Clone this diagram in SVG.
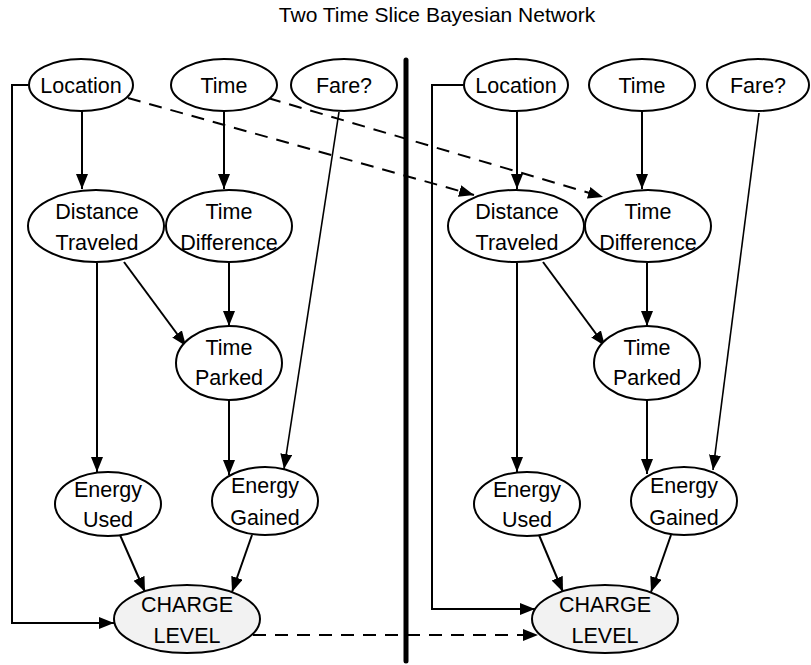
<svg xmlns="http://www.w3.org/2000/svg" width="811" height="665" viewBox="0 0 811 665">
<style>
.n{fill:#fff;stroke:#000;stroke-width:2}
.c{fill:#f2f2f2;stroke:#000;stroke-width:2}
text{font-family:"Liberation Sans",Arial,sans-serif;font-size:21.5px;fill:#000;text-anchor:middle}
.t{font-size:21px}
.e{fill:none;stroke:#000;stroke-width:2}
.a{marker-end:url(#ah)}
.d{stroke-dasharray:13 9}
</style>
<defs>
<marker id="ah" markerUnits="userSpaceOnUse" markerWidth="16" markerHeight="13" refX="15" refY="6" orient="auto">
<path d="M0,0 L15,6 L0,12 z" fill="#000"/>
</marker>
</defs>
<rect width="811" height="665" fill="#fff"/>
<text class="t" x="437" y="22">Two Time Slice Bayesian Network</text>
<line x1="406" y1="60" x2="406" y2="661" stroke="#000" stroke-width="5" stroke-linecap="round"/>
<g id="connectors">
<path class="e a" d="M82,111 L82,189"/>
<path class="e a" d="M224,111 L224,189"/>
<path class="e a" d="M339,112 L284,469" style="stroke-width:1.6"/>
<path class="e a" d="M97,263 L97,472"/>
<path class="e a" d="M124,262 L186,346"/>
<path class="e a" d="M229,263 L229,326"/>
<path class="e a" d="M229,400 L229,475"/>
<path class="e a" d="M120,535 L145,592"/>
<path class="e a" d="M252,535 L232,592"/>
<path class="e a" d="M28,85 L12,85 L12,623 L114,623"/>
<path class="e a d" d="M253,635 L538,635"/>
<path class="e a d" d="M128,98 L474,195"/>
<path class="e a d" d="M268,98 L603,197"/>
<path class="e a" d="M517,111 L517,189"/>
<path class="e a" d="M642,111 L642,189"/>
<path class="e a" d="M759,113 L713,470" style="stroke-width:1.6"/>
<path class="e a" d="M517,263 L517,472"/>
<path class="e a" d="M543,262 L605,346"/>
<path class="e a" d="M647,263 L647,326"/>
<path class="e a" d="M647,400 L647,474"/>
<path class="e a" d="M539,535 L563,592"/>
<path class="e a" d="M671,535 L651,592"/>
<path class="e a" d="M463,85 L432,85 L432,609 L535,609"/>
</g>
<g id="location1"><ellipse class="n" cx="81" cy="85" rx="52" ry="26"/><text x="81" y="93">Location</text></g>
<g id="time1"><ellipse class="n" cx="224" cy="85" rx="53" ry="26"/><text x="224" y="93">Time</text></g>
<g id="fare1"><ellipse class="n" cx="344" cy="85" rx="53" ry="26"/><text x="344" y="93">Fare?</text></g>
<g id="distance1"><ellipse class="n" cx="96" cy="226" rx="68" ry="36"/><text x="97" y="219">Distance</text><text x="97" y="250">Traveled</text></g>
<g id="timediff1"><ellipse class="n" cx="229" cy="226" rx="63" ry="36"/><text x="229" y="219">Time</text><text x="229" y="250">Difference</text></g>
<g id="parked1"><ellipse class="n" cx="229" cy="363" rx="53" ry="37"/><text x="229" y="355">Time</text><text x="229" y="385">Parked</text></g>
<g id="used1"><ellipse class="n" cx="108" cy="504" rx="53" ry="32"/><text x="108" y="497">Energy</text><text x="108" y="527">Used</text></g>
<g id="gained1"><ellipse class="n" cx="265" cy="501" rx="53" ry="34"/><text x="265" y="493">Energy</text><text x="265" y="525">Gained</text></g>
<g id="charge1"><ellipse class="c" cx="187" cy="619" rx="73" ry="34"/><text x="187" y="612">CHARGE</text><text x="187" y="643">LEVEL</text></g>
<g id="location2"><ellipse class="n" cx="516" cy="85" rx="52" ry="26"/><text x="516" y="93">Location</text></g>
<g id="time2"><ellipse class="n" cx="642" cy="85" rx="53" ry="26"/><text x="642" y="93">Time</text></g>
<g id="fare2"><ellipse class="n" cx="758" cy="85" rx="51" ry="26"/><text x="758" y="93">Fare?</text></g>
<g id="distance2"><ellipse class="n" cx="516" cy="226" rx="68" ry="36"/><text x="517" y="219">Distance</text><text x="517" y="250">Traveled</text></g>
<g id="timediff2"><ellipse class="n" cx="648" cy="226" rx="63" ry="36"/><text x="648" y="219">Time</text><text x="648" y="250">Difference</text></g>
<g id="parked2"><ellipse class="n" cx="647" cy="363" rx="53" ry="37"/><text x="647" y="355">Time</text><text x="647" y="385">Parked</text></g>
<g id="used2"><ellipse class="n" cx="527" cy="504" rx="53" ry="32"/><text x="527" y="497">Energy</text><text x="527" y="527">Used</text></g>
<g id="gained2"><ellipse class="n" cx="684" cy="501" rx="53" ry="34"/><text x="684" y="493">Energy</text><text x="684" y="525">Gained</text></g>
<g id="charge2"><ellipse class="c" cx="605" cy="619" rx="73" ry="34"/><text x="605" y="612">CHARGE</text><text x="605" y="643">LEVEL</text></g>
</svg>
